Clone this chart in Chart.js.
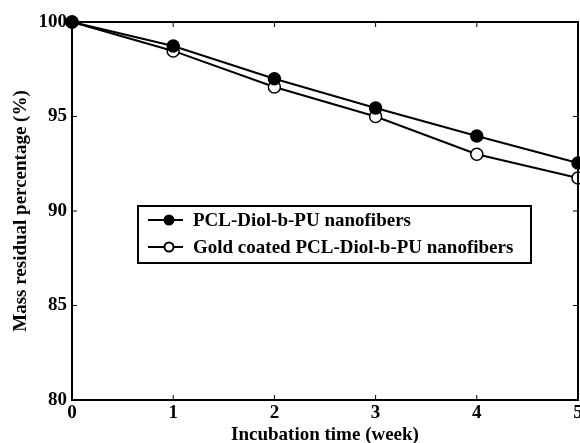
<!DOCTYPE html>
<html><head><meta charset="utf-8">
<script src="https://cdn.jsdelivr.net/npm/chart.js@4/dist/chart.umd.min.js"></script>
<style>html,body{margin:0;padding:0;background:#fff}#wrap{width:580px;height:443px}</style>
</head><body><div id="wrap"><canvas id="c" width="580" height="443"></canvas></div>
<script>
const weeks = [0, 1, 2, 3, 4, 5];
const pclDiol = [100, 98.73, 97.0, 95.45, 93.97, 92.54];
const goldCoated = [100, 98.47, 96.56, 95.0, 93.0, 91.75];
const seriesLabels = ["PCL-Diol-b-PU nanofibers", "Gold coated PCL-Diol-b-PU nanofibers"];
const yTicks = [80, 85, 90, 95, 100];
const xTitle = "Incubation time (week)";
const yTitle = "Mass residual percentage (%)";
const FONT = "'Liberation Serif', 'Times New Roman', serif";

const framePlugin = {
  id: 'frame',
  afterDatasetsDraw(chart) {
    const {ctx, chartArea: a, scales: {x, y}} = chart;
    ctx.save();
    ctx.strokeStyle = '#000';
    ctx.lineWidth = 2;
    ctx.strokeRect(a.left, a.top, a.right - a.left, a.bottom - a.top);
    ctx.lineWidth = 1;
    ctx.beginPath();
    weeks.forEach(v => {
      const px = x.getPixelForValue(v);
      ctx.moveTo(px, a.bottom); ctx.lineTo(px, a.bottom - 5);
      ctx.moveTo(px, a.top); ctx.lineTo(px, a.top + 5);
    });
    yTicks.forEach(v => {
      const py = y.getPixelForValue(v);
      ctx.moveTo(a.left, py); ctx.lineTo(a.left + 5, py);
      ctx.moveTo(a.right, py); ctx.lineTo(a.right - 5, py);
    });
    ctx.stroke();
    // legend
    const lx = 138, ly = 206, lw = 393, lh = 57;
    ctx.fillStyle = '#fff';
    ctx.fillRect(lx, ly, lw, lh);
    ctx.lineWidth = 2;
    ctx.strokeRect(lx, ly, lw, lh);
    ctx.font = "bold 19px " + FONT;
    ctx.textBaseline = 'middle';
    chart.data.datasets.forEach((ds, i) => {
      const cy = ly + 14 + i * 27;
      ctx.strokeStyle = '#000';
      ctx.lineWidth = 2;
      ctx.beginPath(); ctx.moveTo(lx + 10, cy); ctx.lineTo(lx + 45, cy); ctx.stroke();
      ctx.beginPath(); ctx.arc(lx + 31, cy, 4.5, 0, Math.PI * 2);
      ctx.fillStyle = ds.pointBackgroundColor;
      ctx.fill(); ctx.stroke();
      ctx.fillStyle = '#000';
      ctx.fillText(ds.label, lx + 55, cy + 1);
    });
    ctx.restore();
  }
};

function zeroPad(s) { s.paddingLeft = 0; s.paddingRight = 0; s.paddingTop = 0; s.paddingBottom = 0; }

new Chart(document.getElementById('c'), {
  type: 'line',
  data: {
    labels: weeks,
    datasets: [
      {label: seriesLabels[0], data: weeks.map((w, i) => ({x: w, y: pclDiol[i]})),
       borderColor: '#000', borderWidth: 2, pointRadius: 6, pointBackgroundColor: '#000',
       pointBorderColor: '#000', pointBorderWidth: 1.5, tension: 0, clip: false},
      {label: seriesLabels[1], data: weeks.map((w, i) => ({x: w, y: goldCoated[i]})),
       borderColor: '#000', borderWidth: 2, pointRadius: 6, pointBackgroundColor: '#fff',
       pointBorderColor: '#000', pointBorderWidth: 1.5, tension: 0, clip: false}
    ]
  },
  options: {
    responsive: false, animation: false, devicePixelRatio: 1,
    layout: {autoPadding: false, padding: {left: 0, right: 2, top: 22, bottom: 0}},
    plugins: {legend: {display: false}, tooltip: {enabled: false}},
    scales: {
      x: {type: 'linear', min: 0, max: 5,
          afterFit: s => { s.height = 43; zeroPad(s); },
          afterBuildTicks: s => { s.ticks = weeks.map(v => ({value: v})); },
          grid: {display: false, drawTicks: false}, border: {display: false},
          ticks: {color: '#000', padding: 2, maxRotation: 0, font: {family: FONT, size: 19, weight: 'bold'}},
          title: {display: true, text: xTitle, color: '#000', padding: {top: 0, bottom: 0},
                  font: {family: FONT, size: 19, weight: 'bold', lineHeight: 0.85}}},
      y: {type: 'linear', min: 80, max: 100,
          afterFit: s => { s.width = 72; zeroPad(s); },
          afterBuildTicks: s => { s.ticks = yTicks.map(v => ({value: v})); },
          grid: {display: false, drawTicks: false}, border: {display: false},
          ticks: {color: '#000', padding: 5, font: {family: FONT, size: 19, weight: 'bold'}},
          title: {display: true, text: yTitle, color: '#000', padding: {top: 12, bottom: 4},
                  font: {family: FONT, size: 19, weight: 'bold', lineHeight: 1}}}
    }
  },
  plugins: [framePlugin]
});
</script></body></html>
